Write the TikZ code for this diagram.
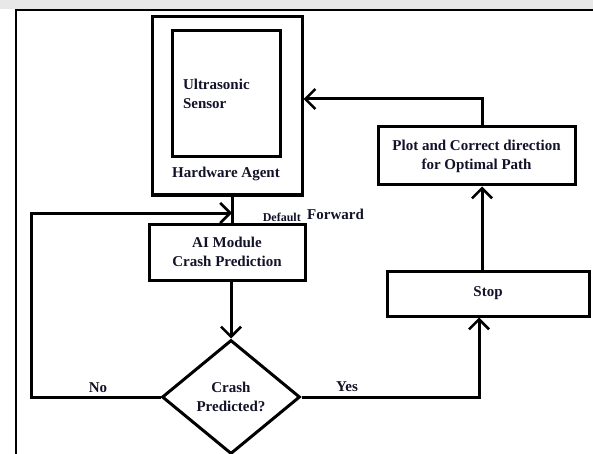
\documentclass[tikz,border=0pt]{standalone}
\usepackage{fontspec}
\setmainfont{Liberation Serif}
\usetikzlibrary{shapes.geometric,arrows.meta}
\definecolor{txt}{rgb}{0.07,0.07,0.16}
\definecolor{band}{rgb}{0.91,0.91,0.91}
\tikzset{
  box/.style={draw,line width=3pt,rectangle,inner sep=0pt,text=txt,align=center,font=\bfseries\fontsize{15}{19}\selectfont},
  lbl/.style={text=txt,inner sep=0pt,font=\bfseries\fontsize{15}{19}\selectfont},
  wire/.style={line width=3pt},
  arr/.style={line width=3pt,-{Straight Barb[length=10pt,width=20pt,line width=2.6pt]}},
}
\begin{document}
\begin{tikzpicture}[x=1pt,y=-1pt]
\useasboundingbox (0,0) rectangle (593,454);
\clip (0,0) rectangle (593,454);
\fill[white] (0,0) rectangle (593,454);
\fill[band] (0,0) rectangle (593,9);
\draw[line width=2.2pt] (16,10) rectangle (610,480);
% hardware agent
\node[box,minimum width=150pt,minimum height=178pt] (hw) at (227,106) {};
\node[box,minimum width=108pt,minimum height=126pt,text width=86pt,align=left] (sensor) at (226,94) {Ultrasonic\\Sensor};
\node[lbl] (hwl) at (226,174) {Hardware Agent};
% other boxes
\node[box,minimum width=156pt,minimum height=56pt] (ai) at (227,252) {AI Module\\Crash Prediction};
\node[box,shape=diamond,minimum width=138pt,minimum height=114pt] (dec) at (231,397) {Crash\\Predicted?};
\node[box,minimum width=202pt,minimum height=45pt] (stop) at (488,293.5) {Stop};
\node[box,minimum width=197pt,minimum height=58pt] (plot) at (476.5,156) {Plot and Correct direction\\for Optimal Path};
% labels
\node[lbl] (no) at (98,388) {No};
\node[lbl] (yes) at (347,387) {Yes};
\node[lbl,font=\bfseries\fontsize{12}{14}\selectfont,anchor=base east] (def) at (301,221) {Default};
\node[lbl,anchor=base west] (fwd) at (307,219) {Forward};
% coordinates
\coordinate (j) at (232,213);
\coordinate (lc) at (31,213);
\coordinate (pl) at (482,0);
% connectors
\draw[wire] (hw.south -| j) -- (ai.north -| j);
\draw[arr] (dec.west) -| (lc) -- (j);
\draw[arr] (ai.south -| dec.north) -- (dec.north);
\draw[arr] (dec.east) -| ([xshift=-9pt]stop.south);
\draw[arr] (stop.north -| pl) -- (plot.south -| pl);
\draw[arr] (plot.north -| pl) |- ([yshift=7pt]hw.east);
\end{tikzpicture}
\end{document}
